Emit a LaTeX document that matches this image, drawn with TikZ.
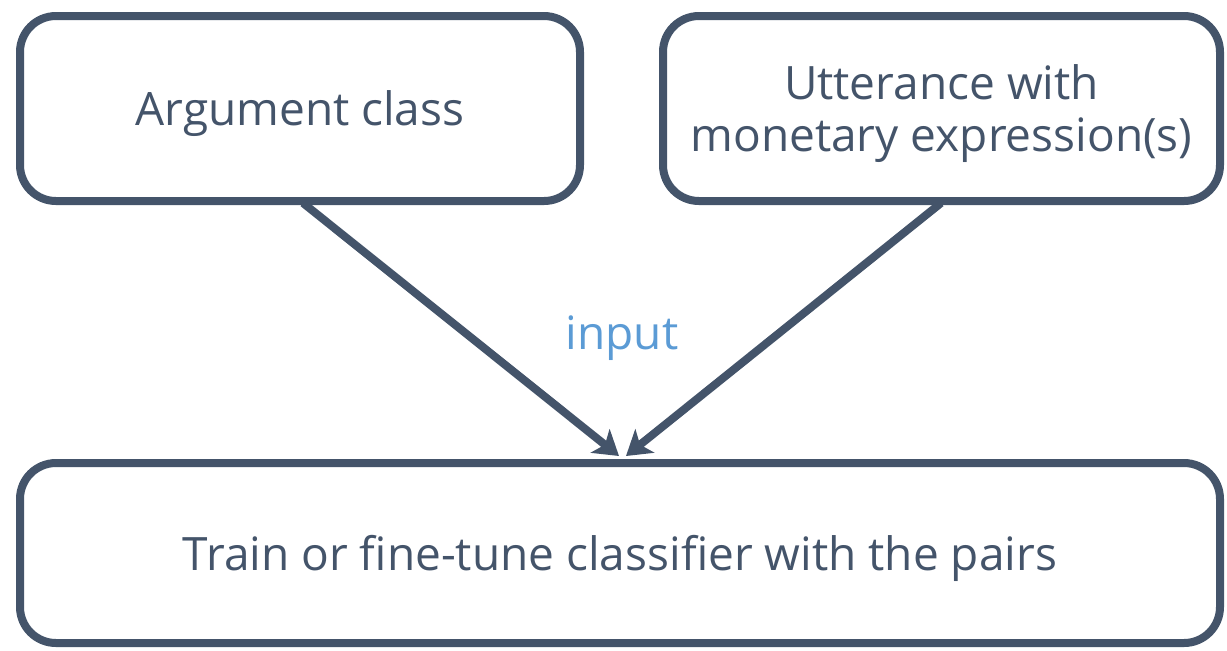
\documentclass[tikz,border=0pt]{standalone}
\usepackage{fontspec}
\setmainfont{Open Sans}
\usetikzlibrary{arrows.meta}
\definecolor{slate}{HTML}{44546A}
\definecolor{lblue}{HTML}{5B9BD5}
\begin{document}
\begin{tikzpicture}[x=0.5pt,y=-0.5pt,
  box/.style={draw=slate,line width=4pt,rounded corners=18pt,fill=white,
    text=slate,font=\fontsize{23}{26}\selectfont,align=center,inner sep=0pt,text depth=0pt},
  conn/.style={draw=slate,line width=4pt,-{Stealth[length=12pt,width=15pt,inset=3pt]}}]
\useasboundingbox (0,0) rectangle (1227,650);
\node[box,minimum width=280pt,minimum height=92.5pt] (L) at (300,108.5) {Argument class};
\node[box,minimum width=278.5pt,minimum height=92.5pt] (R) at (941.5,108.5) {Utterance with\\monetary expression(s)};
\node[box,minimum width=600pt,minimum height=90pt] (B) at (620,553) {Train or fine-tune classifier with the pairs};
\coordinate (la) at (619,456);
\coordinate (ra) at (626,456);
\coordinate (ls) at (303,203);
\coordinate (rs) at (941,203);
\draw[conn] (ls) -- (la);
\draw[conn] (rs) -- (ra);
\node[text=lblue,font=\fontsize{23}{26}\selectfont] (inp) at (622,338) {input};
\end{tikzpicture}
\end{document}
